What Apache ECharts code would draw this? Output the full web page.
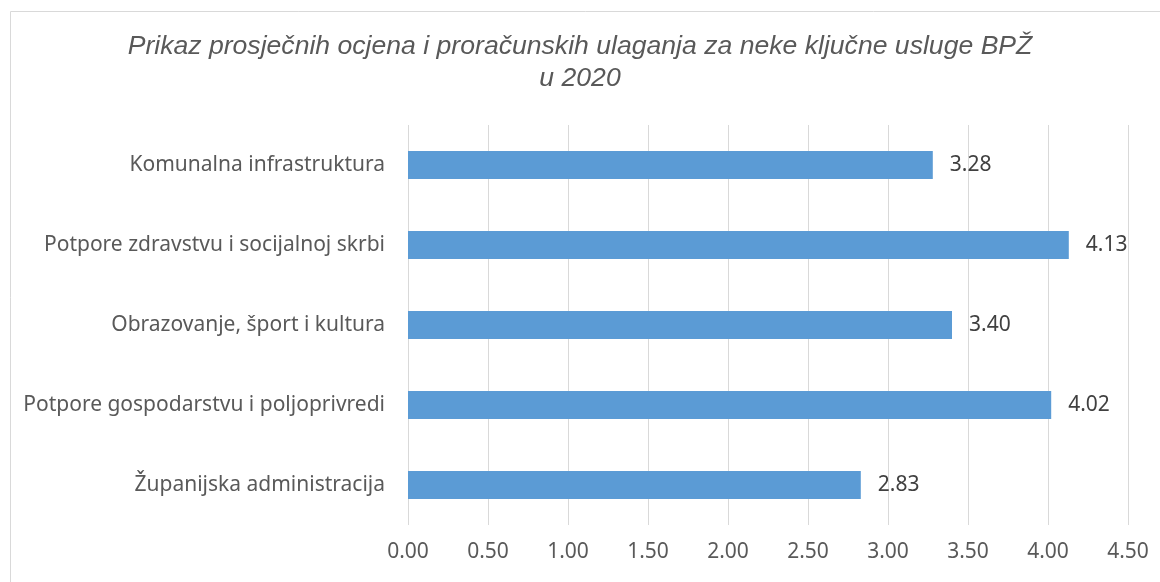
<!DOCTYPE html>
<html>
<head>
<meta charset="utf-8">
<script src="https://cdn.jsdelivr.net/npm/echarts@6/dist/echarts.min.js"></script>
<style>
    html, body { margin: 0; padding: 0; background: #fff; }
    #chart { width: 1160px; height: 582px; }
</style>
</head>
<body>
<div id="chart"></div>
<script>
// categories top to bottom
const categories = [
    'Komunalna infrastruktura',
    'Potpore zdravstvu i socijalnoj skrbi',
    'Obrazovanje, šport i kultura',
    'Potpore gospodarstvu i poljoprivredi',
    'Županijska administracija',
]
const ocjene = [3.28, 4.13, 3.40, 4.02, 2.83]

const labelFont = 'Noto Sans'
const textColor = '#595959'

const chart = echarts.init(document.getElementById('chart'))
chart.setOption({
    animation: false,
    title: {
        text: 'Prikaz prosječnih ocjena i proračunskih ulaganja za neke ključne usluge BPŽ\nu 2020',
        left: 'center',
        top: 26,
        textStyle: {
            fontFamily: 'Liberation Sans',
            fontStyle: 'italic',
            fontWeight: 'normal',
            fontSize: 26.6,
            lineHeight: 32,
            color: textColor,
        },
    },
    graphic: [
        {
            type: 'rect',
            shape: { x: 10.5, y: 11.5, width: 1200, height: 700 },
            style: { fill: 'none', stroke: '#D9D9D9', lineWidth: 1 },
            silent: true,
        },
    ],
    grid: {
        left: 408,
        right: 32,
        top: 125,
        bottom: 57,
    },
    xAxis: {
        type: 'value',
        min: 0,
        max: 4.5,
        interval: 0.5,
        axisLine: { show: false },
        axisTick: { show: false },
        splitLine: { lineStyle: { color: '#D9D9D9', width: 1 } },
        axisLabel: {
            margin: 17,
            fontFamily: labelFont,
            fontSize: 21,
            color: textColor,
            formatter: v => v.toFixed(2),
        },
    },
    yAxis: {
        type: 'category',
        inverse: true,
        data: categories,
        axisLine: { show: false },
        axisTick: { show: false },
        axisLabel: {
            margin: 23,
            fontFamily: labelFont,
            fontSize: 21,
            color: textColor,
        },
    },
    series: [
        {
            type: 'bar',
            data: ocjene,
            barWidth: 28,
            itemStyle: { color: '#5B9BD5' },
            label: {
                show: true,
                position: 'right',
                distance: 17,
                fontFamily: labelFont,
                fontSize: 21,
                color: '#404040',
                formatter: p => p.value.toFixed(2),
            },
        },
    ],
})
</script>
</body>
</html>
